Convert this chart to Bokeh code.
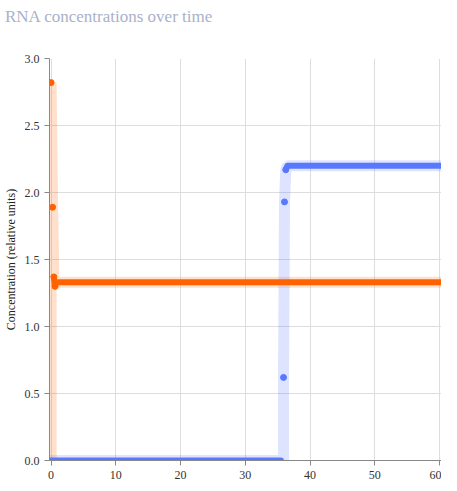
from bokeh.plotting import figure
from bokeh.models import Range1d, FixedTicker, Div, CustomJSTickFormatter
from bokeh.layouts import column
from bokeh.embed import file_html
from bokeh.resources import INLINE

title_text = "RNA concentrations over time"
y_label = "Concentration (relative units)"

# orange species
orange_dot_t = [0.0, 0.23, 0.43, 0.6]
orange_dot_c = [2.82, 1.89, 1.37, 1.30]
orange_line_t = [0.43, 0.6, 0.8, 61.0]
orange_line_c = [1.37, 1.30, 1.33, 1.33]
orange_band_t = [0.0, 0.0, 0.23, 0.43, 0.6, 0.8, 61.0]
orange_band_c = [0.0, 2.82, 1.89, 1.37, 1.30, 1.33, 1.33]

# blue species
blue_dot_t = [35.9, 36.05, 36.25]
blue_dot_c = [0.62, 1.93, 2.17]
blue_low_t = [-0.6, 35.5]
blue_low_c = [0.0, 0.0]
blue_high_t = [36.25, 36.5, 61.0]
blue_high_c = [2.17, 2.2, 2.2]
blue_band_t = [-0.6, 35.9, 35.9, 36.05, 36.25, 36.5, 61.0]
blue_band_c = [0.0, 0.0, 0.62, 1.93, 2.17, 2.2, 2.2]

x_ticks = [0, 10, 20, 30, 40, 50, 60]
y_ticks = [0.0, 0.5, 1.0, 1.5, 2.0, 2.5, 3.0]

ORANGE = "#ff6200"
BLUE = "#5879ff"
SERIF = "'Liberation Serif', 'DejaVu Serif', serif"

p = figure(width=441, height=436, output_backend="svg", toolbar_location=None,
           x_range=Range1d(-0.25, 60.3), y_range=Range1d(0, 3.0),
           min_border_left=45, min_border_right=0, min_border_top=12,
           min_border_bottom=22)
p.outline_line_color = None
p.background_fill_color = "white"

for ax in (p.xaxis, p.yaxis):
    ax.major_label_text_font = SERIF
    ax.major_label_text_font_size = "12px"
    ax.major_label_text_color = "#333333"
    ax.axis_line_color = "#888888"
    ax.major_tick_line_color = "#888888"
    ax.major_tick_out = 5
    ax.major_tick_in = 0
    ax.minor_tick_line_color = None
p.xaxis.ticker = FixedTicker(ticks=x_ticks)
p.yaxis.ticker = FixedTicker(ticks=y_ticks)
p.yaxis.formatter = CustomJSTickFormatter(code="return tick.toFixed(1);")
p.yaxis.axis_label = y_label
p.yaxis.axis_label_text_font = SERIF
p.yaxis.axis_label_text_font_size = "12px"
p.yaxis.axis_label_text_font_style = "normal"
p.yaxis.axis_label_text_color = "#222222"
p.yaxis.axis_label_standoff = 4

p.xgrid.ticker = FixedTicker(ticks=x_ticks)
p.ygrid.ticker = FixedTicker(ticks=y_ticks)
p.grid.grid_line_color = "#dddddd"
p.grid.grid_line_width = 1

# bands
p.line(orange_band_t, orange_band_c, line_color=ORANGE, line_alpha=0.2, line_width=11)
p.line(blue_band_t, blue_band_c, line_color=BLUE, line_alpha=0.2, line_width=11)

# solid lines
p.line(orange_line_t, orange_line_c, line_color=ORANGE, line_width=6,
       line_join="round", line_cap="round")
p.line(blue_low_t, blue_low_c, line_color=BLUE, line_width=6, line_cap="round")
p.line(blue_high_t, blue_high_c, line_color=BLUE, line_width=6,
       line_join="round", line_cap="round")

# dots
p.scatter(orange_dot_t, orange_dot_c, size=6, color=ORANGE)
p.scatter(blue_dot_t, blue_dot_c, size=6, color=BLUE)

title = Div(text=("<span style=\"font-family:'Liberation Serif','DejaVu Serif',serif;"
                  "font-size:17px;color:#aab1c9;white-space:nowrap;\">" + title_text + "</span>"),
            width=441, height=36, styles={"margin-left": "5px"})

layout = column(title, p)

open("out.html", "w").write(file_html(layout, INLINE))
